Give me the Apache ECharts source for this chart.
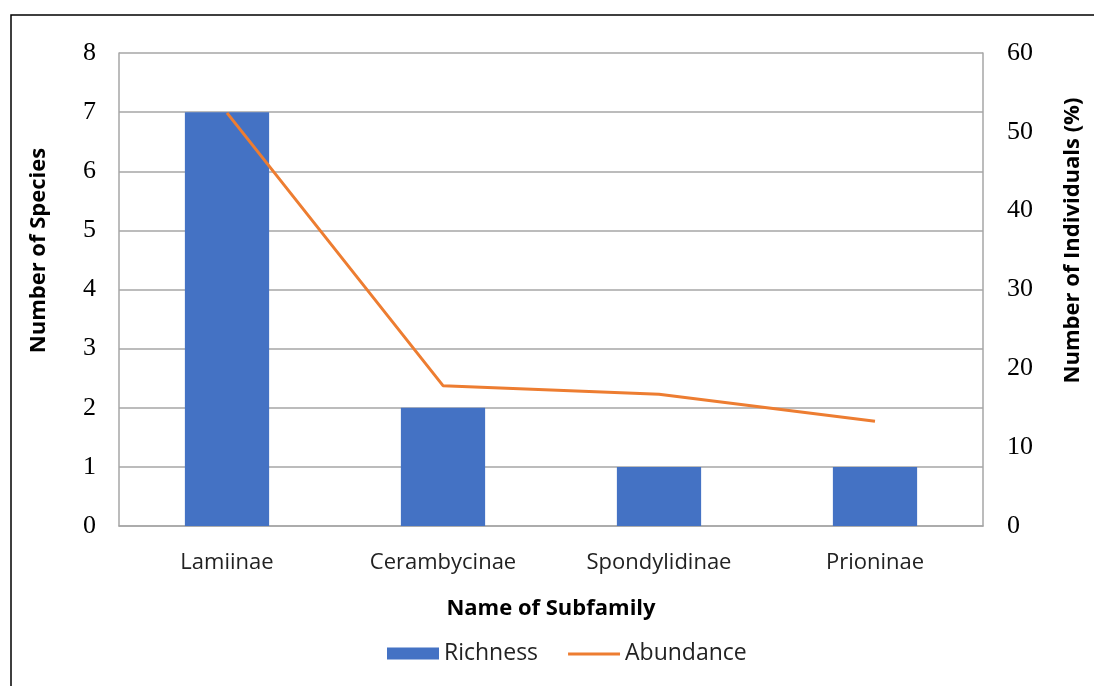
<!DOCTYPE html>
<html>
<head>
<meta charset="utf-8">
<script src="https://cdn.jsdelivr.net/npm/echarts@6/dist/echarts.min.js"></script>
<style>
  html, body { margin: 0; padding: 0; background: #fff; }
  #main { width: 1094px; height: 686px; }
</style>
</head>
<body>
<div id="main"></div>
<script>
const subfamilies = ['Lamiinae', 'Cerambycinae', 'Spondylidinae', 'Prioninae']
const richness = [7, 2, 1, 1]
const abundance = [52.4, 17.8, 16.7, 13.3]

let chart = echarts.init(document.querySelector('#main'))

const sans = '"Open Sans", "Noto Sans", sans-serif'
const serif = '"Liberation Serif", "DejaVu Serif", serif'

let option = {
  animation: false,
  color: ['#4472C4', '#ED7D31'],
  // outer frame of the figure
  graphic: [{
    type: 'rect',
    shape: { x: 11, y: 15, width: 1100, height: 700 },
    style: { fill: 'none', stroke: '#000', lineWidth: 1.5 },
    silent: true
  }],
  grid: { left: 119, right: 111, top: 53, bottom: 160 },
  legend: {
    bottom: 16,
    left: 382,
    itemGap: 30,
    itemWidth: 52,
    itemHeight: 12,
    textStyle: { fontFamily: sans, fontSize: 23, color: '#222' },
    data: [
      { name: 'Richness', icon: 'rect' },
      // thin line icon, tiny corner dots keep the box full height
      { name: 'Abundance', icon: 'path://M0,5 h52 v3 h-52 z M0,0 h0.01 v0.01 h-0.01 z M0,12 h0.01 v0.01 h-0.01 z' }
    ]
  },
  xAxis: {
    type: 'category',
    data: subfamilies,
    name: 'Name of Subfamily',
    nameLocation: 'middle',
    nameGap: 72,
    nameTextStyle: { fontFamily: sans, fontSize: 22, fontWeight: 'bold', color: '#000' },
    axisLine: { lineStyle: { color: '#a6a6a6', width: 1.5 } },
    axisTick: { show: false },
    axisLabel: { fontFamily: sans, fontSize: 22, color: '#222', margin: 26 }
  },
  yAxis: [{
    type: 'value',
    min: 0,
    max: 8,
    interval: 1,
    name: 'Number of Species',
    nameLocation: 'middle',
    nameGap: 69,
    // left padding lifts the rotated title above the axis middle
    nameTextStyle: { fontFamily: sans, fontSize: 22, fontWeight: 'bold', color: '#000', padding: [0, 0, 0, 78] },
    axisLine: { show: true, lineStyle: { color: '#a6a6a6', width: 1.5 } },
    axisLabel: { fontFamily: serif, fontSize: 26, color: '#000', margin: 23 },
    splitLine: { lineStyle: { color: '#a6a6a6', width: 1.5 } }
  }, {
    type: 'value',
    min: 0,
    max: 60,
    interval: 10,
    name: 'Number of Individuals (%)',
    nameLocation: 'middle',
    nameGap: 79,
    nameTextStyle: { fontFamily: sans, fontSize: 22, fontWeight: 'bold', color: '#000', padding: [0, 0, 0, 98] },
    axisLine: { show: true, lineStyle: { color: '#a6a6a6', width: 1.5 } },
    axisLabel: { fontFamily: serif, fontSize: 26, color: '#000', margin: 24 },
    splitLine: { show: false }
  }],
  series: [{
    name: 'Richness',
    type: 'bar',
    data: richness,
    barWidth: '39%',
    yAxisIndex: 0
  }, {
    name: 'Abundance',
    type: 'line',
    data: abundance,
    yAxisIndex: 1,
    symbol: 'none',
    lineStyle: { width: 3 }
  }]
}

chart.setOption(option)
</script>
</body>
</html>
